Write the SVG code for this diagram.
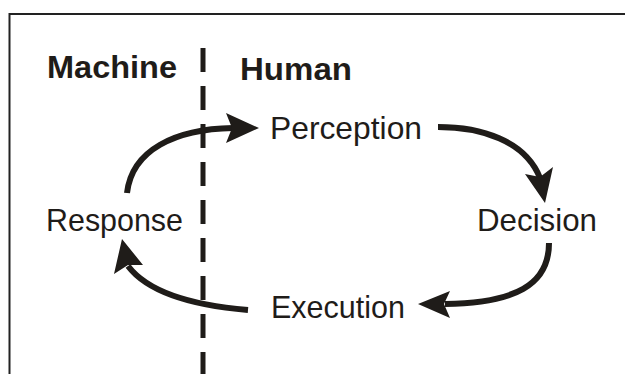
<svg xmlns="http://www.w3.org/2000/svg" width="625" height="374" viewBox="0 0 625 374">
<style>
.t{font-family:"Liberation Sans",Arial,sans-serif;fill:#1f1c19}
.r{font-size:32px}
.b{font-size:31px;font-weight:bold}
.c{fill:none;stroke:#1f1c19;stroke-width:6;stroke-linecap:butt}
.h{fill:#1f1c19}
</style>
<rect width="625" height="374" fill="#fff"/>
<path d="M9.5,374 V14 H625" fill="none" stroke="#222" stroke-width="2"/>
<line id="divider" x1="203" y1="48" x2="203" y2="374" stroke="#1f1c19" stroke-width="5" stroke-dasharray="24 14"/>
<g id="machine"><text class="t b" x="47" y="78" textLength="130" lengthAdjust="spacingAndGlyphs">Machine</text></g>
<g id="human"><text class="t b" x="240" y="80" textLength="112" lengthAdjust="spacingAndGlyphs">Human</text></g>
<g id="perception"><text class="t r" x="270" y="139" textLength="152" lengthAdjust="spacingAndGlyphs">Perception</text></g>
<g id="decision"><text class="t r" x="477" y="231" textLength="120" lengthAdjust="spacingAndGlyphs">Decision</text></g>
<g id="execution"><text class="t r" x="271" y="318" textLength="134" lengthAdjust="spacingAndGlyphs">Execution</text></g>
<g id="response"><text class="t r" x="46" y="231" textLength="137" lengthAdjust="spacingAndGlyphs">Response</text></g>
<g id="connectors">
<path class="c" d="M127,193 C132,150 175,129 233,128"/>
<polygon class="h" points="259,128 226,113 232,128 226,143"/>
<path class="c" d="M438,127 C480,127 525,140 540,178"/>
<polygon class="h" points="545,203 525,174 540,177 553,167"/>
<path class="c" d="M549,243 C549,285 515,303 445,304"/>
<polygon class="h" points="418,304 450,291 444,304 450,318"/>
<path class="c" d="M248,310 C200,306 150,295 128,266"/>
<polygon class="h" points="122,239 143,265 128,265 114,274"/>
</g>
</svg>
